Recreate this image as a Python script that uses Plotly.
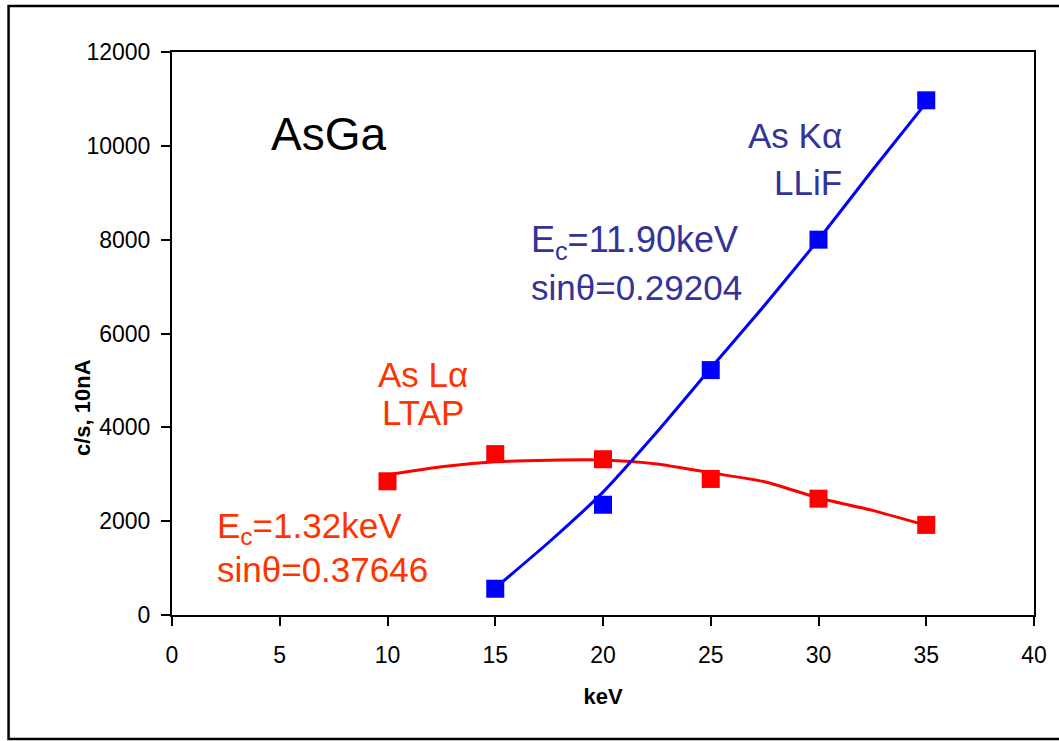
import plotly.graph_objects as go

# Measured data points
kev = [10, 15, 20, 25, 30, 35]
as_la = [2850, 3430, 3320, 2900, 2480, 1920]          # red, As Lα LTAP
kev_ka = [15, 20, 25, 30, 35]
as_ka = [560, 2350, 5220, 8000, 10970]                 # blue, As Kα LLiF

# Trend curves
la_fit_x = [10, 12.5, 15, 17.5, 20, 22.5, 25, 27.5, 30, 32.5, 35]
la_fit_y = [2985, 3160, 3265, 3300, 3305, 3220, 3030, 2840, 2495, 2230, 1910]
ka_fit_x = [15, 17.5, 20, 22.5, 25, 27.5, 30, 32.5, 35]
ka_fit_y = [575, 1556, 2620, 3900, 5260, 6600, 8000, 9480, 10920]

x_ticks = [0, 5, 10, 15, 20, 25, 30, 35, 40]
y_ticks = [0, 2000, 4000, 6000, 8000, 10000, 12000]

RED = "#FF0000"
BLUE = "#0000FF"
RED_TXT = "#FF3300"
BLUE_TXT = "#333399"
FONT = "Liberation Sans, Arial, sans-serif"

fig = go.Figure()
fig.add_trace(go.Scatter(x=la_fit_x, y=la_fit_y, mode="lines",
                         line=dict(color=RED, width=3, shape="spline", smoothing=0.6),
                         hoverinfo="skip"))
fig.add_trace(go.Scatter(x=ka_fit_x, y=ka_fit_y, mode="lines",
                         line=dict(color=BLUE, width=3, shape="spline", smoothing=0.5),
                         hoverinfo="skip"))
fig.add_trace(go.Scatter(x=kev, y=as_la, mode="markers",
                         marker=dict(symbol="square", size=18, color=RED)))
fig.add_trace(go.Scatter(x=kev_ka, y=as_ka, mode="markers",
                         marker=dict(symbol="square", size=18, color=BLUE)))

axis_common = dict(showline=True, linecolor="black", linewidth=2, mirror=True,
                   ticks="outside", ticklen=9, tickwidth=1.5, tickcolor="black",
                   showgrid=False, zeroline=False,
                   tickfont=dict(family=FONT, size=23, color="black"))

fig.update_xaxes(range=[0, 40], tickvals=x_ticks, ticklabelstandoff=9,
                 title=dict(text="<b>keV</b>", font=dict(family=FONT, size=22, color="black"),
                            standoff=22),
                 **axis_common)
fig.update_yaxes(range=[0, 12000], tickvals=y_ticks, tickformat="d", ticklabelstandoff=6,
                 **axis_common)

ann = []
def txt(x, y, s, color, size, xanchor="left"):
    ann.append(dict(x=x, y=y, xref="x", yref="y", text=s, showarrow=False,
                    xanchor=xanchor, yanchor="middle",
                    font=dict(family=FONT, size=size, color=color)))

txt(4.5, 10250, "AsGa", "black", 46)
txt(31.2, 10230, "As Kα", BLUE_TXT, 35, "right")
txt(31.2, 9210, "LLiF", BLUE_TXT, 35, "right")
txt(16.55, 7950, "E<sub>c</sub>=11.90keV", BLUE_TXT, 36)
txt(16.55, 6970, "sinθ=0.29204", BLUE_TXT, 35)
txt(11.67, 5117, "As Lα", RED_TXT, 35, "center")
txt(11.67, 4307, "LTAP", RED_TXT, 35, "center")
txt(1.99, 1855, "E<sub>c</sub>=1.32keV", RED_TXT, 35)
txt(1.99, 960, "sinθ=0.37646", RED_TXT, 35)

# y-axis title placed as in the reference
ann.append(dict(x=-0.103, y=0.368, xref="paper", yref="paper", text="<b>c/s, 10nA</b>",
                showarrow=False, textangle=-90, xanchor="center", yanchor="middle",
                font=dict(family=FONT, size=22, color="black")))

fig.update_layout(
    width=1059, height=741,
    margin=dict(l=172, r=22, t=52, b=126),
    paper_bgcolor="white", plot_bgcolor="white",
    showlegend=False,
    annotations=ann,
    shapes=[dict(type="rect", xref="paper", yref="paper",
                 x0=-0.1896, x1=1.05, y0=-0.2202, y1=1.0817,
                 line=dict(color="black", width=2.5), fillcolor="rgba(0,0,0,0)",
                 layer="below")],
)

fig.write_html("out.html")
